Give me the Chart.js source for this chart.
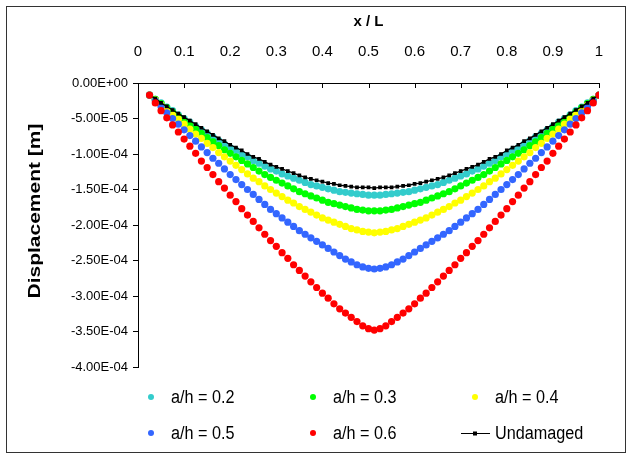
<!DOCTYPE html>
<html>
<head>
<meta charset="utf-8">
<script src="https://cdn.jsdelivr.net/npm/chart.js@4.4.0/dist/chart.umd.min.js"></script>
<style>
html, body { margin: 0; padding: 0; background: #fff; }
#wrap { position: relative; width: 630px; height: 457px; }
</style>
</head>
<body>
<div id="wrap"><canvas id="DispChart" width="630" height="457"></canvas></div>
<script>
// positions along the beam (x / L)
const xPos = [0.025, 0.0375, 0.05, 0.0625, 0.075, 0.0875, 0.1, 0.1125, 0.125, 0.1375,
    0.15, 0.1625, 0.175, 0.1875, 0.2, 0.2125, 0.225, 0.2375, 0.25, 0.2625,
    0.275, 0.2875, 0.3, 0.3125, 0.325, 0.3375, 0.35, 0.3625, 0.375, 0.3875,
    0.4, 0.4125, 0.425, 0.4375, 0.45, 0.4625, 0.475, 0.4875, 0.5, 0.5125,
    0.525, 0.5375, 0.55, 0.5625, 0.575, 0.5875, 0.6, 0.6125, 0.625, 0.6375,
    0.65, 0.6625, 0.675, 0.6875, 0.7, 0.7125, 0.725, 0.7375, 0.75, 0.7625,
    0.775, 0.7875, 0.8, 0.8125, 0.825, 0.8375, 0.85, 0.8625, 0.875, 0.8875,
    0.9, 0.9125, 0.925, 0.9375, 0.95, 0.9625, 0.975, 0.9875, 1.0];

// downward deflection in micrometres (plotted as negative metres)
const defl02 = [17, 23, 28, 34, 39, 45, 50, 55, 61, 66, 71, 76, 81, 86, 91, 95, 100, 104, 109, 113,
    117, 121, 124, 128, 131, 134, 137, 140, 143, 145, 147, 149, 151, 153, 154, 155, 156, 157, 158, 158,
    158, 157, 156, 155, 154, 153, 151, 149, 147, 145, 143, 140, 137, 134, 131, 128, 124, 121, 117, 113,
    109, 104, 100, 95, 91, 86, 81, 76, 71, 66, 61, 55, 50, 45, 39, 34, 28, 23, 17];
const defl03 = [17, 23, 29, 35, 41, 47, 53, 59, 65, 71, 77, 83, 88, 94, 99, 104, 109, 114, 119, 124,
    129, 133, 137, 141, 145, 149, 153, 156, 159, 162, 165, 168, 170, 172, 174, 176, 178, 179, 180, 180,
    180, 179, 178, 176, 174, 172, 170, 168, 165, 162, 159, 156, 153, 149, 145, 141, 137, 133, 129, 124,
    119, 114, 109, 104, 99, 94, 88, 83, 77, 71, 65, 59, 53, 47, 41, 35, 29, 23, 17];
const defl04 = [17, 24, 31, 38, 45, 51, 58, 65, 72, 78, 85, 91, 98, 104, 110, 116, 122, 128, 134, 139,
    145, 150, 155, 160, 165, 169, 174, 178, 182, 186, 190, 193, 196, 199, 202, 205, 207, 209, 210, 211,
    210, 209, 207, 205, 202, 199, 196, 193, 190, 186, 182, 178, 174, 169, 165, 160, 155, 150, 145, 139,
    134, 128, 122, 116, 110, 104, 98, 91, 85, 78, 72, 65, 58, 51, 45, 38, 31, 24, 17];
const defl05 = [17, 25, 33, 42, 50, 58, 66, 74, 82, 90, 98, 106, 113, 121, 129, 136, 143, 150, 157, 164,
    171, 178, 184, 190, 196, 202, 208, 213, 218, 223, 228, 233, 238, 243, 248, 252, 256, 259, 261, 262,
    261, 259, 256, 252, 248, 243, 238, 233, 228, 223, 218, 213, 208, 202, 196, 190, 184, 178, 171, 164,
    157, 150, 143, 136, 129, 121, 113, 106, 98, 90, 82, 74, 66, 58, 50, 42, 33, 25, 17];
const defl06 = [17, 28, 39, 49, 59, 69, 79, 89, 99, 110, 119, 129, 139, 148, 158, 167, 177, 186, 195, 204,
    213, 222, 230, 239, 247, 256, 264, 272, 280, 288, 296, 303, 311, 318, 324, 330, 336, 342, 346, 348,
    346, 342, 336, 330, 324, 318, 311, 303, 296, 288, 280, 272, 264, 256, 247, 239, 230, 222, 213, 204,
    195, 186, 177, 167, 158, 148, 139, 129, 119, 110, 99, 89, 79, 69, 59, 49, 39, 28, 17];
const deflIntact = [17, 22, 28, 33, 38, 43, 48, 53, 58, 63, 68, 73, 78, 82, 87, 91, 95, 100, 104, 107,
    111, 115, 118, 121, 124, 127, 130, 133, 135, 137, 139, 141, 142, 144, 145, 146, 147, 147, 147, 148,
    147, 147, 147, 146, 145, 144, 142, 141, 139, 137, 135, 133, 130, 127, 124, 121, 118, 115, 111, 107,
    104, 100, 95, 91, 87, 82, 78, 73, 68, 63, 58, 53, 48, 43, 38, 33, 28, 22, 17];

const seriesLabels = ["a/h = 0.2", "a/h = 0.3", "a/h = 0.4", "a/h = 0.5", "a/h = 0.6", "Undamaged"];
const xTicks = [0, 0.1, 0.2, 0.3, 0.4, 0.5, 0.6, 0.7, 0.8, 0.9, 1];
const xTickLabels = ["0", "0.1", "0.2", "0.3", "0.4", "0.5", "0.6", "0.7", "0.8", "0.9", "1"];
const yTitle = "Displacement [m]";

const FONT = '"Liberation Sans", Arial, sans-serif';

function toPoints(vals){
    var pts = [];
    for(let i = 0; i < xPos.length; i++){
        pts.push({x: xPos[i], y: -vals[i] * 1e-6});
    }
    return pts;
}

function sciLabel(v){
    if (Math.abs(v) < 1e-12) return "0.00E+00";
    var s = v.toExponential(2);      // e.g. -5.00e-5
    var parts = s.split("e");
    var ex = parseInt(parts[1]);
    var sign = ex < 0 ? "-" : "+";
    ex = Math.abs(ex);
    return parts[0] + "E" + sign + (ex < 10 ? "0" + ex : ex);
}

function dotSet(label, vals, color, order){
    return {
        label: label,
        data: toPoints(vals),
        showLine: false,
        backgroundColor: color,
        borderColor: color,
        borderWidth: 0,
        pointRadius: 3.6,
        pointHoverRadius: 3.6,
        order: order
    };
}

//Legend laid out in three columns, two rows under the plot
const legendCols = [151, 313, 475];
const legendRows = [397, 433];
const gridLegend = {
    id: "gridLegend",
    afterDraw(chart){
        const ctx = chart.ctx;
        chart.data.datasets.forEach(function(ds, i){
            const cx = legendCols[i % 3], cy = legendRows[Math.floor(i / 3)];
            ctx.save();
            if (ds.showLine){
                ctx.strokeStyle = "#000";
                ctx.lineWidth = 1;
                ctx.beginPath();
                ctx.moveTo(cx - 14, cy + 0.5);
                ctx.lineTo(cx + 15, cy + 0.5);
                ctx.stroke();
                ctx.fillStyle = "#000";
                ctx.fillRect(cx - 2, cy - 1.5, 4, 4);
            } else {
                ctx.fillStyle = ds.backgroundColor;
                ctx.beginPath();
                ctx.arc(cx, cy, 3, 0, Math.PI * 2);
                ctx.fill();
            }
            // slightly condensed text, like the original
            ctx.translate(cx + 20, cy + 1);
            ctx.scale(0.9, 1);
            ctx.font = "18px " + FONT;
            ctx.textBaseline = "middle";
            ctx.fillStyle = "#000";
            ctx.fillText(ds.label, 0, 0);
            ctx.restore();
        });
    }
};

//Inward tick marks on the top axis, the rotated y title and the outer frame
const frameAndTicks = {
    id: "frameAndTicks",
    afterDraw(chart){
        const ctx = chart.ctx, xs = chart.scales.x, top = chart.chartArea.top;
        ctx.save();
        ctx.strokeStyle = "#000";
        ctx.lineWidth = 1;
        ctx.beginPath();
        xs.ticks.forEach(function(t){
            const px = Math.round(xs.getPixelForValue(t.value)) + 0.5;
            ctx.moveTo(px, top);
            ctx.lineTo(px, top + 5);
        });
        ctx.stroke();
        ctx.strokeStyle = "#333";
        ctx.strokeRect(6.5, 6.5, 619, 446);

        ctx.translate(35, 211);
        ctx.rotate(-Math.PI / 2);
        ctx.scale(1, 0.78);
        ctx.font = "bold 21px " + FONT;
        ctx.fillStyle = "#000";
        ctx.textAlign = "center";
        ctx.textBaseline = "middle";
        ctx.fillText(yTitle, 0, 0);
        ctx.restore();
    }
};

var canvasElement = document.getElementById("DispChart");
var config = {
    type: "scatter",
    data: {
        datasets: [
            dotSet(seriesLabels[0], defl02, "#33CCCC", 5),
            dotSet(seriesLabels[1], defl03, "#00FF00", 4),
            dotSet(seriesLabels[2], defl04, "#FFFF00", 3),
            dotSet(seriesLabels[3], defl05, "#3366FF", 2),
            dotSet(seriesLabels[4], defl06, "#FF0000", 0),
            {
                label: seriesLabels[5],
                data: toPoints(deflIntact),
                showLine: true,
                borderColor: "#000",
                backgroundColor: "#000",
                borderWidth: 1.3,
                pointStyle: "rect",
                pointRadius: 1.7,
                pointHoverRadius: 1.7,
                tension: 0,
                order: 1
            }
        ]
    },
    options: {
        responsive: false,
        animation: false,
        devicePixelRatio: 1,
        layout: { padding: { left: 0, top: 0, right: 31, bottom: 90 } },
        plugins: {
            legend: { display: false },
            tooltip: { enabled: false }
        },
        scales: {
            x: {
                type: "linear",
                position: "top",
                min: 0,
                max: 1,
                afterBuildTicks: function(scale){
                    scale.ticks = xTicks.map(function(v){ return {value: v}; });
                },
                afterFit: function(scale){ scale.height = 83; },
                ticks: {
                    color: "#000",
                    font: { family: FONT, size: 15 },
                    padding: 22,
                    maxRotation: 0,
                    autoSkip: false,
                    callback: function(v, i){ return xTickLabels[i]; }
                },
                grid: { display: true, drawOnChartArea: false, drawTicks: false, color: "#000" },
                border: { display: true, color: "#000", width: 1 },
                title: {
                    display: true,
                    text: "x / L",
                    color: "#000",
                    font: { family: FONT, size: 15, weight: "bold" },
                    padding: { top: 13, bottom: 0 }
                }
            },
            y: {
                type: "linear",
                min: -4e-4,
                max: 0,
                afterFit: function(scale){ scale.width = 138; },
                ticks: {
                    stepSize: 5e-5,
                    color: "#000",
                    font: { family: FONT, size: 13 },
                    padding: 5,
                    callback: function(v){ return sciLabel(v); }
                },
                grid: { display: true, drawOnChartArea: false, drawTicks: true, tickLength: 5, color: "#000" },
                border: { display: true, color: "#000", width: 1 },
                title: { display: false }
            }
        }
    },
    plugins: [gridLegend, frameAndTicks]
};
var dispChart = new Chart(canvasElement, config);
window.dispChart = dispChart;
</script>
</body>
</html>
